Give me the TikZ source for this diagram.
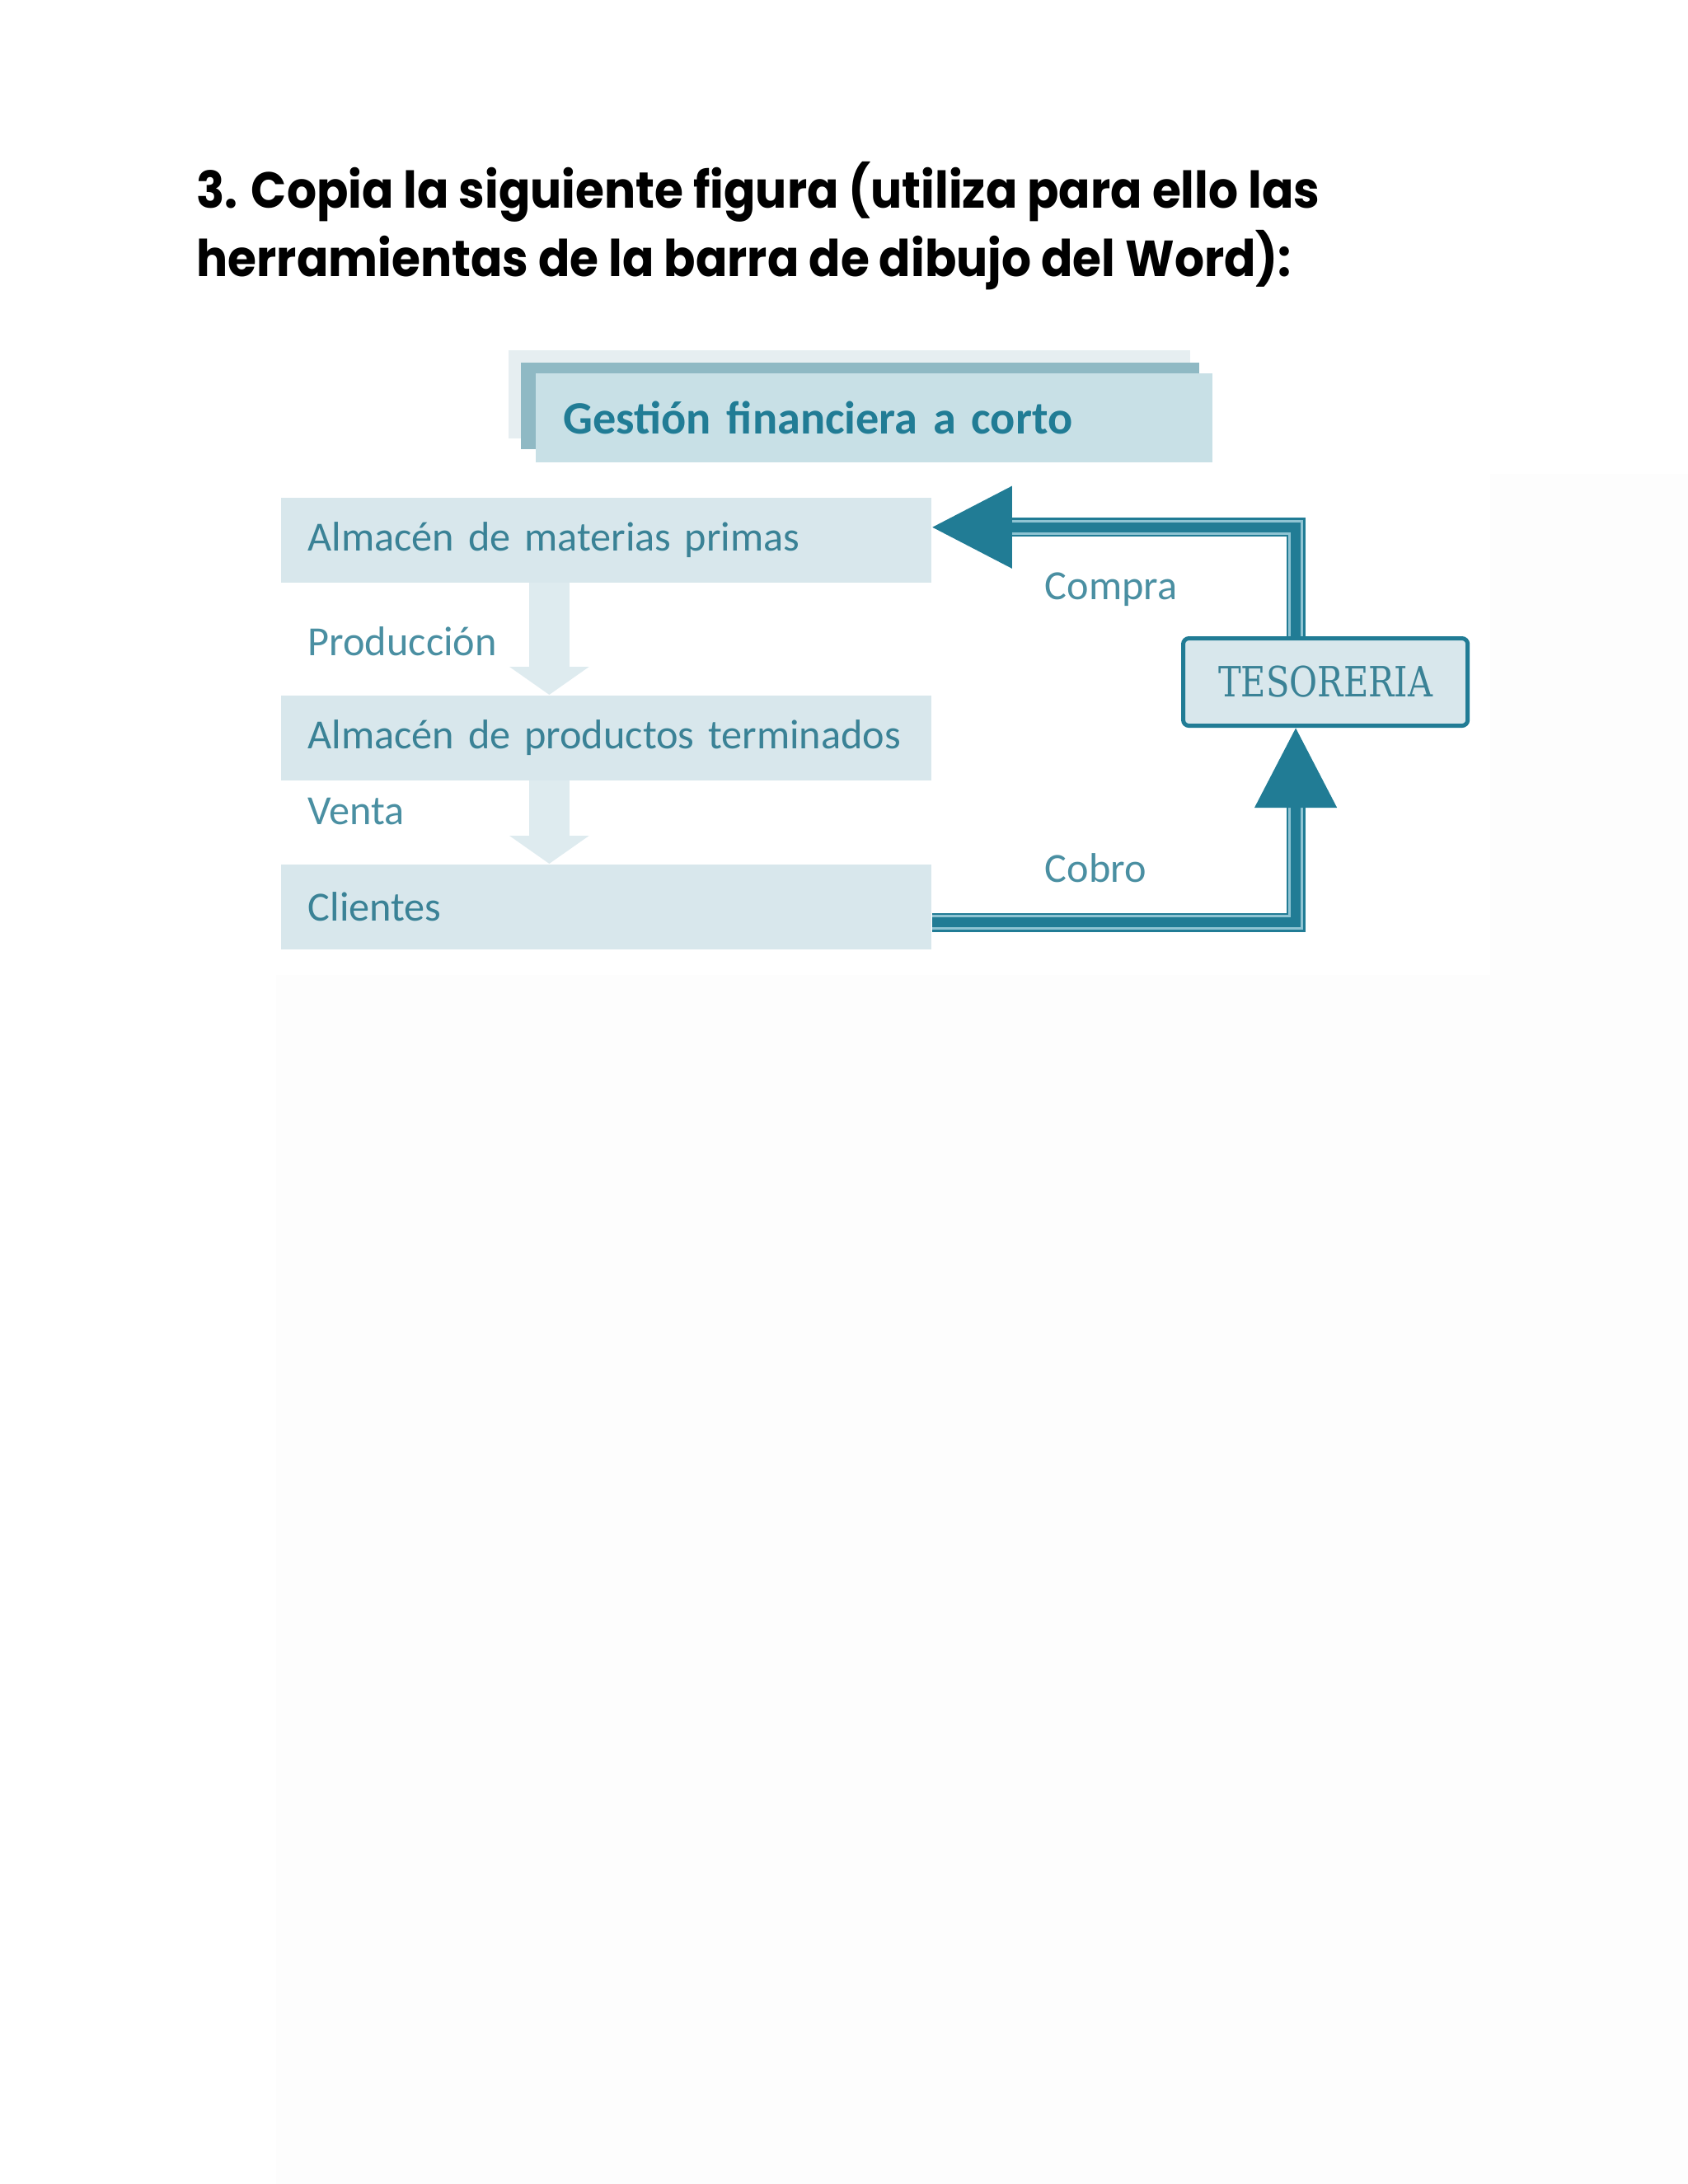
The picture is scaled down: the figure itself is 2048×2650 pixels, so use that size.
\documentclass[tikz,border=0pt]{standalone}
\usepackage{fontspec}
\setmainfont{Carlito}[WordSpace=0.75]
\newfontfamily\titlefont{Poppins}[FakeStretch=0.92]
\newfontfamily\tesfont{DejaVu Serif}[FakeStretch=0.82]
\usepackage{tikz}
\usetikzlibrary{positioning,calc,arrows.meta}
\definecolor{tealdark}{HTML}{217C95}
\definecolor{stripe}{HTML}{8FC4D3}
\definecolor{boxfill}{HTML}{D8E7EC}
\definecolor{downfill}{HTML}{DEEBEF}
\definecolor{boxtext}{HTML}{3A8296}
\definecolor{labeltext}{HTML}{4A8FA2}
\definecolor{gfback}{HTML}{E6EEF1}
\definecolor{gfmid}{HTML}{8FB9C4}
\definecolor{gffill}{HTML}{C8E0E6}
\definecolor{faint}{HTML}{FDFDFD}
\tikzstyle{StoreBox}=[rectangle, fill=boxfill, text=boxtext, text width=7.23cm, align=left, inner xsep=0.33cm, inner ysep=0pt, minimum height=1.03cm, font=\fontsize{14.3}{17}\selectfont]
\tikzstyle{FlowLabel}=[anchor=base west, inner sep=0pt, text=labeltext, font=\fontsize{14.3}{17}\selectfont]
\tikzstyle{DownArrow}=[draw=downfill, line width=0.49cm, -{Triangle[length=0.34cm,width=0.95cm]}]
\tikzstyle{CashLine}=[draw=tealdark, line width=0.12cm, -{Triangle[length=0.97cm,width=0.97cm]},
  preaction={draw=tealdark, line width=0.23cm, -, shorten >=0.9cm},
  preaction={draw=stripe, line width=0.18cm, -, shorten >=0.9cm}]
\tikzstyle{TesBox}=[rectangle, draw=tealdark, line width=0.05cm, rounded corners=2pt, fill=boxfill, text=boxtext, minimum width=3.45cm, minimum height=1.06cm, font=\tesfont\fontsize{14.4}{17}\selectfont]

\begin{document}
\begin{tikzpicture}[x=0.01cm, y=-0.01cm]
      \useasboundingbox (0,0) rectangle (2048,2650);
      \fill[faint] (335,1183) rectangle (2048,2650);
      \fill[faint] (1808,575) rectangle (2048,1183);
      \node[anchor=base west, inner sep=0pt, font=\titlefont\bfseries\fontsize{17.5}{21}\selectfont] (t1) at (238,252) {3. Copia la siguiente figura (utiliza para ello las};
      \node[anchor=base west, inner sep=0pt, font=\titlefont\bfseries\fontsize{17.5}{21}\selectfont] (t2) at (238,335) {herramientas de la barra de dibujo del Word):};
      \fill[gfback] (617,425) rectangle (1444,532);
      \fill[gfmid] (632,440) rectangle (1455,545);
      \node[rectangle, fill=gffill, anchor=north west, text=tealdark, text width=7.53cm, align=left, inner xsep=0.34cm, inner ysep=0pt, minimum height=1.08cm, font=\bfseries\fontsize{16}{19}\selectfont] (gf) at (649,452) {\mbox{Gestión financiera a corto}};
      \node[StoreBox, anchor=north west] (mp) at (340,603) {\mbox{Almacén de materias primas}};
      \node[StoreBox, anchor=north west] (pt) at (340,843) {\mbox{Almacén de productos terminados}};
      \node[StoreBox, anchor=north west] (cl) at (340,1048) {Clientes};
      \node[FlowLabel] (prod) at (373,795) {Producción};
      \node[FlowLabel] (venta) at (373,1000) {Venta};
      \node[TesBox, anchor=north west] (tes) at (1433,772) {TESORERIA};
      \node[FlowLabel] (compra) at (1267,727) {Compra};
      \node[FlowLabel] (cobro) at (1267,1070) {Cobro};
      \draw[DownArrow] ([xshift=-0.69cm]mp.south) -- ([xshift=-0.69cm]pt.north);
      \draw[DownArrow] ([xshift=-0.69cm]pt.south) -- ([xshift=-0.69cm]cl.north);
      \draw[CashLine] ([xshift=-0.36cm]tes.north) |- ([yshift=0.155cm]mp.east);
      \draw[CashLine] ([yshift=-0.19cm]cl.east) -| ([xshift=-0.36cm]tes.south);
    \end{tikzpicture}
\end{document}
